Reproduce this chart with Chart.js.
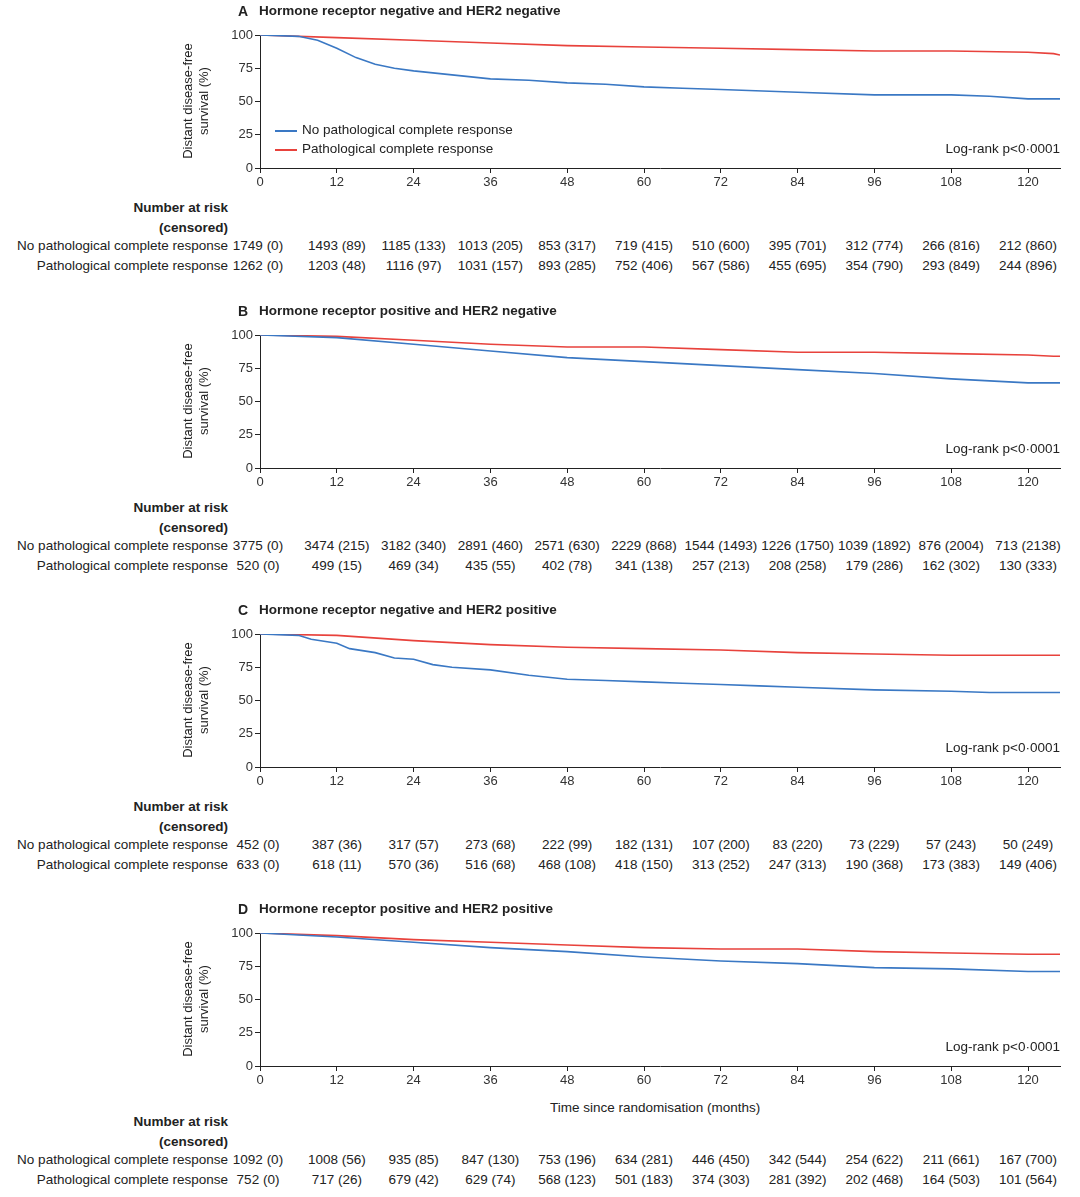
<!DOCTYPE html>
<html><head><meta charset="utf-8">
<script src="https://cdn.jsdelivr.net/npm/chart.js@4"></script>
<style>
body{margin:0;background:#fff;width:1080px;height:1197px;position:relative;overflow:hidden;font-family:"Liberation Sans",Arial,sans-serif;color:#222}
canvas{position:absolute;left:0}
.t{position:absolute;white-space:nowrap;font-size:13.5px;line-height:16px}
</style></head><body>
<script>
const months=[0,12,24,36,48,60,72,84,96,108,120];
const titles=["Hormone receptor negative and HER2 negative","Hormone receptor positive and HER2 negative","Hormone receptor negative and HER2 positive","Hormone receptor positive and HER2 positive"];
const letters=["A","B","C","D"];
const seriesNames=["No pathological complete response","Pathological complete response"];
const noPcrX=[
[0,6,9,12,15,18,21,24,30,36,42,48,54,60,66,72,84,96,108,114,120,125],
[0,12,24,36,48,60,72,84,96,108,120,125],
[0,6,8,12,14,18,21,24,27,30,36,42,48,54,60,66,72,78,84,96,108,114,120,125],
[0,12,24,36,48,60,72,84,96,108,120,125]];
const noPcrY=[
[100,99,96,90,83,78,75,73,70,67,66,64,63,61,60,59,57,55,55,54,52,52],
[100,98,93,88,83,80,77,74,71,67,64,64],
[100,99,96,93,89,86,82,81,77,75,73,69,66,65,64,63,62,61,60,58,57,56,56,56],
[100,97,93,89,86,82,79,77,74,73,71,71]];
const pcrX=[
[0,12,24,36,48,60,72,84,96,108,120,124,125],
[0,12,24,36,48,60,72,84,96,108,120,124,125],
[0,12,24,36,48,60,72,84,96,108,120,125],
[0,12,24,36,48,60,72,84,96,108,120,125]];
const pcrY=[
[100,98,96,94,92,91,90,89,88,88,87,86,85],
[100,99,96,93,91,91,89,87,87,86,85,84,84],
[100,99,95,92,90,89,88,86,85,84,84,84],
[100,98,95,93,91,89,88,88,86,85,84,84]];
const riskNo=[
["1749 (0)","1493 (89)","1185 (133)","1013 (205)","853 (317)","719 (415)","510 (600)","395 (701)","312 (774)","266 (816)","212 (860)"],
["3775 (0)","3474 (215)","3182 (340)","2891 (460)","2571 (630)","2229 (868)","1544 (1493)","1226 (1750)","1039 (1892)","876 (2004)","713 (2138)"],
["452 (0)","387 (36)","317 (57)","273 (68)","222 (99)","182 (131)","107 (200)","83 (220)","73 (229)","57 (243)","50 (249)"],
["1092 (0)","1008 (56)","935 (85)","847 (130)","753 (196)","634 (281)","446 (450)","342 (544)","254 (622)","211 (661)","167 (700)"]];
const riskP=[
["1262 (0)","1203 (48)","1116 (97)","1031 (157)","893 (285)","752 (406)","567 (586)","455 (695)","354 (790)","293 (849)","244 (896)"],
["520 (0)","499 (15)","469 (34)","435 (55)","402 (78)","341 (138)","257 (213)","208 (258)","179 (286)","162 (302)","130 (333)"],
["633 (0)","618 (11)","570 (36)","516 (68)","468 (108)","418 (150)","313 (252)","247 (313)","190 (368)","173 (383)","149 (406)"],
["752 (0)","717 (26)","679 (42)","629 (74)","568 (123)","501 (183)","374 (303)","281 (392)","202 (468)","164 (503)","101 (564)"]];
const tops=[0,300,599,898];
function txt(s,x,y,extra){const d=document.createElement('div');d.className='t';d.textContent=s;d.style.left=x+'px';d.style.top=y+'px';if(extra)Object.assign(d.style,extra);document.body.appendChild(d);return d;}
for(let p=0;p<4;p++){
 const T=tops[p];
 const c=document.createElement('canvas');c.width=1080;c.height=195;c.style.top=T+'px';document.body.appendChild(c);
 const mk=(xs,ys)=>xs.map((x,i)=>({x:x,y:ys[i]}));
 new Chart(c,{type:'line',data:{datasets:[
  {data:mk(noPcrX[p],noPcrY[p]),borderColor:'#3a78c4',borderWidth:1.6,pointRadius:0,tension:0},
  {data:mk(pcrX[p],pcrY[p]),borderColor:'#e8423c',borderWidth:1.6,pointRadius:0,tension:0}]},
 options:{responsive:false,animation:false,devicePixelRatio:1,layout:{padding:{left:0,right:20,top:35,bottom:0}},
  plugins:{legend:{display:false},tooltip:{enabled:false}},
  scales:{
   x:{type:'linear',min:0,max:125,afterFit:s=>{s.height=27},afterBuildTicks:s=>{s.ticks=months.map(v=>({value:v}))},
      grid:{drawOnChartArea:false,tickLength:5,color:'#222'},border:{color:'#222'},
      ticks:{color:'#333',font:{family:'Liberation Sans',size:13},padding:2,maxRotation:0}},
   y:{min:0,max:100,afterFit:s=>{s.width=260},afterBuildTicks:s=>{s.ticks=[0,25,50,75,100].map(v=>({value:v}))},
      grid:{drawOnChartArea:false,tickLength:5,color:'#222'},border:{color:'#222'},
      ticks:{color:'#333',font:{family:'Liberation Sans',size:13},padding:2}}}}});
 txt(letters[p],238,T+3,{fontWeight:'bold',fontSize:'14px'});
 txt(titles[p],259,T+3,{fontWeight:'bold',fontSize:'13.5px'});
 const yt=txt('',0,0,{textAlign:'center',transform:'rotate(-90deg)',fontSize:'13px',lineHeight:'16px',width:'140px',whiteSpace:'normal'});
 yt.innerHTML='Distant disease-free<br>survival (%)';
 yt.style.left=(196-70)+'px';yt.style.top=(T+101-16)+'px';
 txt('Log-rank p<0·0001',0,T+141,{left:'auto',right:'20px'});
 const o=p===3?16:0;
 if(p===3) txt('Time since randomisation (months)',550,T+202);
 txt('Number at risk',0,T+200+o,{left:'auto',right:'852px',fontWeight:'bold'});
 txt('(censored)',0,T+220+o,{left:'auto',right:'852px',fontWeight:'bold'});
 txt(seriesNames[0],0,T+238+o,{left:'auto',right:'852px'});
 txt(seriesNames[1],0,T+258+o,{left:'auto',right:'852px'});
 months.forEach((m,i)=>{
  const cx=(i===0?258:260+6.4*m);
  txt(riskNo[p][i],cx-50,T+238+o,{width:'100px',textAlign:'center'});
  txt(riskP[p][i],cx-50,T+258+o,{width:'100px',textAlign:'center'});
 });
 if(p===0){
  [['#3a78c4',122],['#e8423c',141]].forEach((a,j)=>{
   const l=document.createElement('div');Object.assign(l.style,{position:'absolute',left:'275px',top:(a[1]+8)+'px',width:'22px',height:'2px',background:a[0]});document.body.appendChild(l);
   txt(seriesNames[j],302,a[1]);
  });
 }
}
</script>
</body></html>
